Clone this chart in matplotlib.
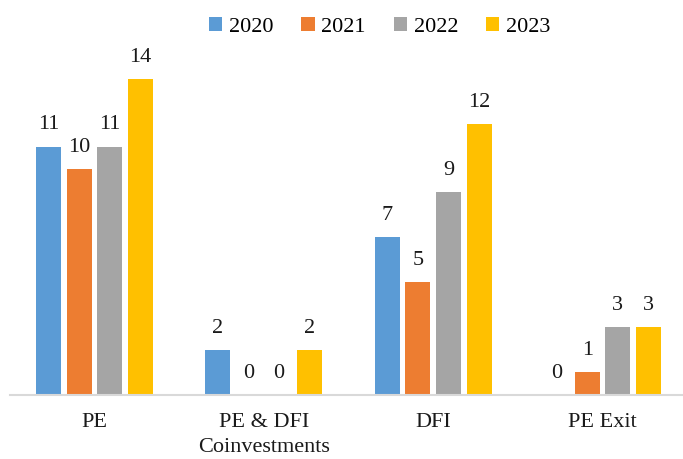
import matplotlib.pyplot as plt
import numpy as np

categories = ['PE', 'PE & DFI\nCoinvestments', 'DFI', 'PE Exit']
years = ['2020', '2021', '2022', '2023']
values_2020 = [11, 2, 7, 0]
values_2021 = [10, 0, 5, 1]
values_2022 = [11, 0, 9, 3]
values_2023 = [14, 2, 12, 3]

series = [values_2020, values_2021, values_2022, values_2023]
colors = ['#5B9BD5', '#ED7D31', '#A5A5A5', '#FFC000']

plt.rcParams['font.family'] = ['Liberation Serif', 'DejaVu Serif']

fig = plt.figure(figsize=(6.83, 4.59), dpi=100)
ax = fig.add_axes([0.01428, 0.1394, 0.992, 0.7866])

x = np.arange(len(categories))
bar_w = 0.1475
step = 0.181
for i, (vals, col, yr) in enumerate(zip(series, colors, years)):
    pos = x + (i - 1.5) * step
    bars = ax.bar(pos, vals, width=bar_w, color=col, label=yr, zorder=2)
    for b, v in zip(bars, vals):
        ax.annotate(str(v), (b.get_x() + b.get_width() / 2, v),
                    xytext=(0, 12.5), textcoords='offset points',
                    ha='center', va='baseline', fontsize=16, color='#1a1a1a')

ax.set_xlim(-0.5, len(categories) - 0.5)
ax.set_ylim(0, 16)
ax.set_xticks(x)
ax.set_xticklabels(categories, fontsize=16, color='#1a1a1a', linespacing=1.4)
ax.tick_params(axis='x', length=0, pad=13)
ax.set_yticks([])
for s in ['top', 'right', 'left']:
    ax.spines[s].set_visible(False)
ax.spines['bottom'].set_color('#D9D9D9')
ax.spines['bottom'].set_linewidth(1.5)

fig.legend(loc='center', bbox_to_anchor=(0.556, 0.942), ncol=4, frameon=False,
           fontsize=16, handlelength=0.6, handleheight=0.6, handletextpad=0.3,
           columnspacing=1.25)

fig.savefig('out.png', dpi=100)
